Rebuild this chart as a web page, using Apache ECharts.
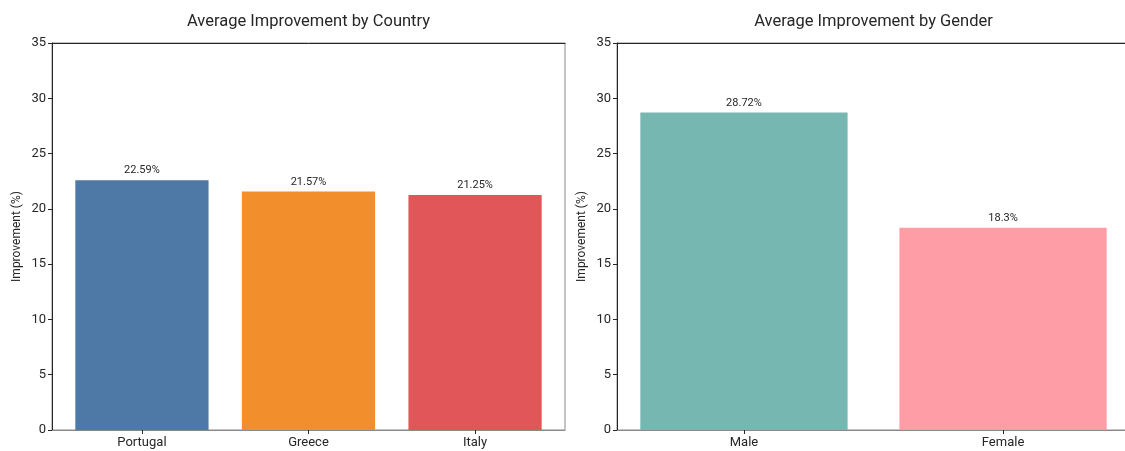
<!DOCTYPE html>
<html>
<head>
<meta charset="utf-8">
<script src="https://cdn.jsdelivr.net/npm/echarts@6/dist/echarts.min.js"></script>
<style>
  html, body { margin: 0; padding: 0; background: #fff; }
  #chart { width: 1125px; height: 451px; }
</style>
</head>
<body>
<div id="chart"></div>
<script>
// Average improvement (%) by country and by gender
const countries = ['Portugal', 'Greece', 'Italy'];
const countryValues = [22.59, 21.57, 21.25];
const countryColors = ['#4E79A7', '#F28E2B', '#E15759'];

const genders = ['Male', 'Female'];
const genderValues = [28.72, 18.3];
const genderColors = ['#76B7B2', '#FF9DA7'];

const yTicks = [0, 5, 10, 15, 20, 25, 30, 35];

const FONT = 'Roboto, "DejaVu Sans", sans-serif';
const DARK = '#262626';
const GREY = '#8a8a8a';

const plotW = 513, plotH = 387, plotTop = 43;
const panels = [
  { left: 52, cats: countries, vals: countryValues, colors: countryColors, title: 'Average Improvement by Country' },
  { left: 617, cats: genders, vals: genderValues, colors: genderColors, title: 'Average Improvement by Gender' }
];

const grids = [], xAxes = [], yAxes = [], series = [], titles = [];

panels.forEach((p, i) => {
  const n = p.cats.length;
  // bars are 0.8 wide, with a 5% margin of the data span on both sides
  const lo = -0.4, hi = n - 1 + 0.4;
  const pad = (hi - lo) * 0.05;
  const xmin = lo - pad, xmax = hi + pad;
  const pxPerUnit = plotW / (xmax - xmin);
  const idx = p.cats.map((_, k) => k);

  grids.push({ left: p.left, top: plotTop, width: plotW, height: plotH,
    show: true, borderColor: GREY, borderWidth: 1, containLabel: false,
    outerBoundsMode: 'none' });

  titles.push({ text: p.title, left: p.left + plotW / 2 - 5, top: 8, textAlign: 'center',
    textStyle: { fontFamily: FONT, fontSize: 16.5, fontWeight: 'normal', color: DARK } });

  // bottom category axis
  xAxes.push({ type: 'value', gridIndex: i, min: xmin, max: xmax, position: 'bottom',
    axisLine: { show: true, onZero: false, lineStyle: { color: GREY, width: 1 } },
    axisTick: { show: true, length: 4, customValues: idx, lineStyle: { color: DARK } },
    axisLabel: { customValues: idx, margin: 6, fontFamily: FONT, fontSize: 13, color: DARK,
      formatter: v => p.cats[Math.round(v)] },
    splitLine: { show: false } });
  // top spine
  xAxes.push({ type: 'value', gridIndex: i, min: xmin, max: xmax, position: 'top',
    axisLine: { show: true, onZero: false, lineStyle: { color: DARK, width: 1 } },
    axisTick: { show: false }, axisLabel: { show: false }, splitLine: { show: false } });

  yAxes.push({ type: 'value', gridIndex: i, min: 0, max: 35, interval: 5, position: 'left',
    name: 'Improvement (%)', nameLocation: 'middle', nameGap: 29, nameRotate: 90,
    nameTextStyle: { fontFamily: FONT, fontSize: 12, color: DARK },
    axisLine: { show: true, onZero: false, lineStyle: { color: DARK, width: 1 } },
    axisTick: { show: true, length: 4, lineStyle: { color: DARK } },
    axisLabel: { margin: 6, fontFamily: FONT, fontSize: 13, color: DARK,
      customValues: yTicks },
    splitLine: { show: false } });

  series.push({ type: 'bar', xAxisIndex: i * 2, yAxisIndex: i,
    barWidth: 0.8 * pxPerUnit,
    data: p.vals.map((v, k) => ({ value: [k, v], itemStyle: { color: p.colors[k] } })),
    label: { show: true, position: 'top', distance: 4, fontFamily: FONT, fontSize: 11, color: DARK,
      formatter: d => d.value[1] + '%' } });
});

const chart = echarts.init(document.getElementById('chart'), null, { renderer: 'canvas' });
chart.setOption({
  animation: false,
  backgroundColor: '#fff',
  title: titles,
  grid: grids,
  xAxis: xAxes,
  yAxis: yAxes,
  series: series
});
</script>
</body>
</html>
